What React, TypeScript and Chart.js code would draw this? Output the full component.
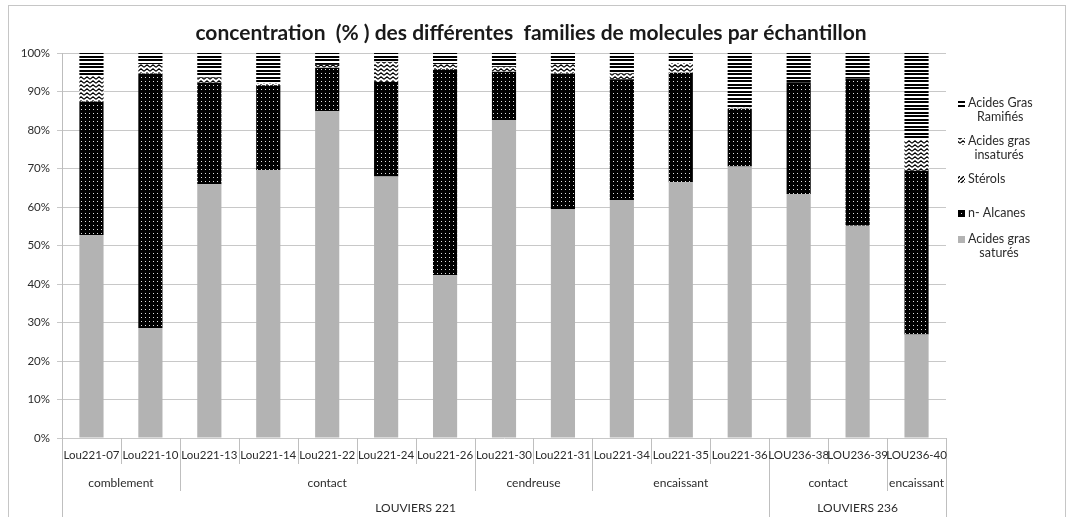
import React, { useEffect, useRef } from 'react';
import { Chart, registerables } from 'chart.js';

Chart.register(...registerables);

const titleText = 'concentration  (% ) des différentes  families de molecules par échantillon';

const categories = [
  'Lou221-07', 'Lou221-10', 'Lou221-13', 'Lou221-14', 'Lou221-22', 'Lou221-24', 'Lou221-26',
  'Lou221-30', 'Lou221-31', 'Lou221-34', 'Lou221-35', 'Lou221-36',
  'LOU236-38', 'LOU236-39', 'LOU236-40',
];

// second level: label, first category index, last category index
const groupLabels = ['comblement', 'contact', 'cendreuse', 'encaissant', 'contact', 'encaissant'];
const groupStarts = [0, 2, 7, 9, 12, 14];
const groupEnds = [1, 6, 8, 11, 13, 14];

// third level
const siteLabels = ['LOUVIERS 221', 'LOUVIERS 236'];
const siteStarts = [0, 12];
const siteEnds = [11, 14];

// series values (%)
const satures = [52.7, 28.6, 65.9, 69.6, 84.9, 67.9, 42.3, 82.6, 59.5, 61.8, 66.4, 70.5, 63.4, 55.1, 26.9];
const alcanes = [34.7, 66.1, 26.4, 22.0, 11.3, 24.6, 53.5, 12.5, 35.2, 31.4, 28.5, 15.0, 29.0, 38.3, 42.5];
const sterols = [0, 0, 0, 0, 0, 0, 0, 0, 0, 0, 0, 0, 0, 0, 0];
const insatures = [6.6, 2.4, 1.3, 0.5, 0.7, 5.2, 1.3, 1.3, 2.4, 1.5, 2.5, 0.3, 0, 0, 8.0];
const ramifies = [6.0, 2.9, 6.4, 7.9, 3.1, 2.3, 2.9, 3.6, 2.9, 5.3, 2.6, 14.2, 7.6, 6.6, 22.6];

const yTickValues = [0, 10, 20, 30, 40, 50, 60, 70, 80, 90, 100];

const seriesNames = [
  ['Acides gras', 'saturés'],
  ['n- Alcanes'],
  ['Stérols'],
  ['Acides gras', 'insaturés'],
  ['Acides Gras', 'Ramifiés'],
];

const FONT = 'Lato, "Open Sans", sans-serif';

function tile(w: number, h: number, draw: (g: CanvasRenderingContext2D) => void): CanvasPattern | string {
  const c = document.createElement('canvas');
  c.width = w;
  c.height = h;
  const g = c.getContext('2d');
  if (!g) return '#000';
  draw(g);
  const p = g.createPattern(c, 'repeat');
  return p || '#000';
}

function makePatterns() {
  const saturated = '#b3b3b3';
  const alk = tile(4, 4, (g) => {
    g.fillStyle = '#000';
    g.fillRect(0, 0, 4, 4);
    g.fillStyle = '#e0e0e0';
    g.fillRect(1, 1, 1, 1);
  });
  const ster = tile(4, 4, (g) => {
    g.fillStyle = '#fff';
    g.fillRect(0, 0, 4, 4);
    g.strokeStyle = '#000';
    g.lineWidth = 1.3;
    g.beginPath();
    g.moveTo(-1, 5);
    g.lineTo(5, -1);
    g.stroke();
  });
  const insat = tile(6, 4, (g) => {
    g.fillStyle = '#fff';
    g.fillRect(0, 0, 6, 4);
    g.strokeStyle = '#000';
    g.lineWidth = 1.1;
    g.beginPath();
    g.moveTo(0, 3.2);
    g.lineTo(3, 0.8);
    g.lineTo(6, 3.2);
    g.stroke();
  });
  const ram = tile(4, 7, (g) => {
    g.fillStyle = '#fff';
    g.fillRect(0, 0, 4, 7);
    g.fillStyle = '#000';
    g.fillRect(0, 0, 4, 2);
    g.fillRect(0, 3, 4, 2);
  });
  return [saturated, alk, ster, insat, ram];
}

export default function App() {
  const ref = useRef<HTMLCanvasElement | null>(null);

  useEffect(() => {
    document.body.style.margin = '0';
    const canvas = ref.current;
    if (!canvas) return;
    const patterns = makePatterns();
    const values = [satures, alcanes, sterols, insatures, ramifies];

    const decor = {
      id: 'decor',
      afterDraw(chart: any) {
        const ctx: CanvasRenderingContext2D = chart.ctx;
        const xs = chart.scales.x;
        const area = chart.chartArea;
        const n = categories.length;
        const w = (xs.getPixelForValue(n - 1) - xs.getPixelForValue(0)) / (n - 1);
        ctx.save();

        // outer frame
        ctx.strokeStyle = '#c6c6c6';
        ctx.lineWidth = 1;
        ctx.strokeRect(8.5, 5.5, 1057, 530);

        // title
        ctx.fillStyle = '#1a1a1a';
        ctx.font = 'bold 21px ' + FONT;
        ctx.textAlign = 'center';
        ctx.textBaseline = 'middle';
        ctx.fillText(titleText, 531, 33);

        // multi-level category axis
        const bottom = area.bottom;
        ctx.strokeStyle = '#bfbfbf';
        ctx.lineWidth = 1;
        for (let i = 0; i <= n; i++) {
          const bx = Math.round(i < n ? xs.getPixelForValue(i) - w / 2 : xs.getPixelForValue(n - 1) + w / 2) + 0.5;
          let depth = 464;
          if (groupStarts.indexOf(i) >= 0) depth = 491;
          if (i === 0 || i === n || siteStarts.indexOf(i) >= 0) depth = 517;
          ctx.beginPath();
          ctx.moveTo(bx, bottom);
          ctx.lineTo(bx, depth);
          ctx.stroke();
        }

        ctx.fillStyle = '#2b2b2b';
        ctx.font = '11.5px ' + FONT;
        ctx.textAlign = 'center';
        ctx.textBaseline = 'middle';
        categories.forEach((c, i) => ctx.fillText(c, xs.getPixelForValue(i), 455));
        ctx.font = '12px ' + FONT;
        groupLabels.forEach((g, k) => {
          const cx = (xs.getPixelForValue(groupStarts[k]) + xs.getPixelForValue(groupEnds[k])) / 2;
          ctx.fillText(g, cx, 483);
        });
        siteLabels.forEach((s, k) => {
          const cx = (xs.getPixelForValue(siteStarts[k]) + xs.getPixelForValue(siteEnds[k])) / 2;
          ctx.fillText(s, cx, 508);
        });

        // legend (reverse order)
        ctx.font = '12.5px ' + FONT;
        const lx = area.right + 12;
        const entryY = [103, 141, 179, 213, 239];
        ctx.textAlign = 'left';
        for (let k = 0; k < 5; k++) {
          const idx = 4 - k;
          const y0 = entryY[k];
          const lines = seriesNames[idx];
          ctx.fillStyle = patterns[idx] as any;
          ctx.fillRect(lx, y0 - 3, 7, 7);
          ctx.fillStyle = '#2b2b2b';
          const tx = lx + 10;
          const wFirst = ctx.measureText(lines[0]).width;
          lines.forEach((t, j) => {
            const tw = ctx.measureText(t).width;
            ctx.fillText(t, tx + (wFirst - tw) / 2, y0 + j * 14);
          });
        }
        ctx.restore();
      },
    };

    const chart = new Chart(canvas, {
      type: 'bar',
      data: {
        labels: categories,
        datasets: values.map((v, i) => ({
          label: seriesNames[i].join(' '),
          data: v,
          backgroundColor: patterns[i] as any,
          borderWidth: 0,
          barPercentage: 0.41,
          categoryPercentage: 1,
        })),
      },
      options: {
        responsive: false,
        animation: false,
        layout: { padding: { top: 53, right: 127, left: 0, bottom: 0 } },
        plugins: {
          legend: { display: false },
          title: { display: false },
          tooltip: { enabled: false },
        },
        scales: {
          x: {
            stacked: true,
            grid: { display: false },
            border: { display: false },
            ticks: { display: false },
            afterFit: (s: any) => {
              s.height = 79;
            },
          },
          y: {
            stacked: true,
            min: 0,
            max: 100,
            afterBuildTicks: (s: any) => {
              s.ticks = yTickValues.map((v) => ({ value: v }));
            },
            ticks: {
              callback: (v: any) => v + '%',
              font: { family: FONT, size: 11.5 },
              color: '#2b2b2b',
              padding: 7,
            },
            grid: { color: '#c8c8c8', tickLength: 5 },
            border: { color: '#bdbdbd' },
            afterFit: (s: any) => {
              s.width = 62;
            },
          },
        },
      },
      plugins: [decor],
    });
    return () => chart.destroy();
  }, []);

  return <canvas ref={ref} width={1073} height={517} style={{ display: 'block' }} />;
}
